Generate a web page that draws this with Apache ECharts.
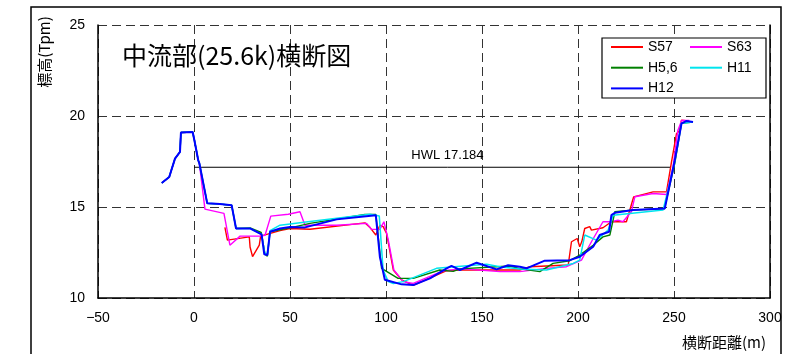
<!DOCTYPE html>
<html>
<head>
<meta charset="utf-8">
<script src="https://cdn.jsdelivr.net/npm/echarts@6/dist/echarts.min.js"></script>
<style>html,body{margin:0;padding:0;background:#fff;}#c{width:788px;height:354px;}</style>
</head>
<body>
<div id="c"></div>
<script>
// ---- data ----
var xTicks = [-50, 0, 50, 100, 150, 200, 250, 300];
var yTicks = [10, 15, 20, 25];
var seriesNames = ['S57', 'S63', 'H5,6', 'H11', 'H12'];
var leftBank = [[-16.8,16.32],[-12.9,16.65],[-9.9,17.66],[-7.3,18.03],[-6.8,19.09],[-0.7,19.12],[0.2,18.67],[2.2,17.57],[2.8,17.4]];
var s57 = [[16.1,13.88],[17.4,13.18],[28.8,13.36],[29.2,12.8],[30.5,12.27],[34,12.9],[34.7,13.4],[44.8,13.7],[50,13.82],[60.4,13.78],[89,14.13],[91.6,13.88],[94.7,13.46],[96.8,14.0],[98.5,13.92],[100.3,13.55],[103.8,11.54],[108.1,11.0],[114.2,10.7],[131.6,11.5],[138.5,11.54],[169.7,11.54],[175,11.72],[194.9,11.81],[196.6,13.09],[199.6,13.27],[200.9,12.82],[202,13.1],[203.5,13.82],[206.1,13.92],[207,13.73],[213,13.86],[217.4,14.19],[225.2,14.19],[229,15.56],[239.1,15.83],[246.1,15.83],[248.7,17.48],[251.3,19.03],[253,19.22],[253.9,19.77],[257.3,19.73]];
var s63 = leftBank.concat([[5.7,14.88],[15.6,14.65],[18.7,12.9],[24,13.4],[34.4,13.4],[37,13.45],[40,14.5],[49.1,14.6],[55.2,14.74],[57.8,14.0],[74.3,14.0],[89.9,14.1],[92.5,13.77],[96.8,13.77],[98.9,14.19],[101.2,13.18],[104.1,11.54],[109,10.9],[114.2,10.8],[130,11.5],[140,11.6],[159.3,11.45],[169.7,11.45],[183.6,11.63],[194,11.72],[201.8,12.08],[207,13.09],[213,14.19],[217.4,14.19],[220.8,14.28],[223.4,14.19],[227.8,14.74],[229.6,15.56],[239.1,15.74],[246.1,15.69],[249.5,17.2],[252,19.2],[254,19.75],[258,19.75]]);
var h56 = leftBank.concat([[6.9,15.2],[13.5,15.16],[19.6,15.1],[21.9,13.82],[29.2,13.85],[35,13.6],[37,12.4],[38.2,12.3],[39.6,13.64],[50,13.85],[60.4,14.1],[89,14.59],[94.7,14.59],[97.7,11.63],[106.3,11.08],[114.2,11.08],[128,11.54],[135,11.46],[138.5,11.6],[164.5,11.76],[170,11.6],[180.1,11.45],[187,11.9],[195.7,12.05],[200.9,12.36],[207.9,12.9],[213,13.36],[216.6,13.46],[219.2,14.74],[227.8,14.83],[245,14.9],[250.4,17.4],[253.9,19.6],[259.9,19.67]]);
var h11 = leftBank.concat([[6.9,15.2],[13.5,15.16],[19.6,15.1],[21.9,13.82],[29.2,13.82],[35.2,13.5],[36.8,12.5],[38.2,12.4],[39.6,13.7],[44.8,14.0],[60.4,14.2],[91.6,14.6],[96.5,14.5],[98.5,11.54],[101.2,10.9],[103.8,10.8],[109,10.9],[126.3,11.63],[145.4,11.8],[152.4,11.86],[160,11.7],[170,11.6],[183.6,11.54],[197.5,11.9],[200.9,12.08],[203.5,13.46],[209.6,13.18],[215.7,13.73],[218.3,14.55],[244.3,14.83],[250,17.3],[253.9,19.6],[259.9,19.67]]);
var h12 = leftBank.concat([[6.9,15.2],[13.5,15.16],[19.6,15.1],[21.9,13.82],[29.2,13.82],[35.2,13.5],[36.6,12.4],[38.2,12.36],[39.6,13.64],[44.8,13.82],[50,13.9],[57.8,13.88],[74.3,14.32],[94.7,14.55],[95.4,14.55],[96.8,12.27],[99.4,11.0],[108.1,10.75],[114.2,10.71],[122.9,11.08],[131.6,11.63],[134.1,11.76],[138.5,11.54],[147.2,11.94],[157.6,11.57],[163.6,11.8],[169.7,11.72],[173.2,11.63],[182.7,12.05],[195.7,12.08],[200.9,12.27],[207.9,12.82],[211.3,13.46],[216.2,13.64],[217.4,14.55],[219.2,14.68],[228.7,14.83],[245.2,14.92],[250.4,17.57],[253.9,19.58],[256.5,19.73],[259.9,19.67]]);
var hwlLevel = 17.184;
var hwlX = [0, 132, 248];
var hwlLabel = 'HWL 17.184';
var titleText = '中流部(25.6k)横断図';
var yName = '標高(Tpm)';
var xName = '横断距離(m)';

// ---- chart ----
var chart = echarts.init(document.getElementById('c'));
var colors = {'S57':'#ff0000','S63':'#ff00ff','H5,6':'#008000','H11':'#00e5ee','H12':'#0000ff'};
var datasets = {'S57':s57,'S63':s63,'H5,6':h56,'H11':h11,'H12':h12};
var widths = {'S57':1.4,'S63':1.4,'H5,6':1.4,'H11':1.5,'H12':2};
var numFont = 'Liberation Sans';
var cjkFont = 'Noto Sans CJK JP';

var series = seriesNames.map(function(n, i){
  return {name:n, type:'line', data:datasets[n], symbol:'none', z:2+i,
    lineStyle:{color:colors[n], width:widths[n]}, itemStyle:{color:colors[n]}};
});
series.push({
  name:'HWL', type:'line', symbol:'circle', symbolSize:0.01, showSymbol:true, showAllSymbol:true, z:1,
  lineStyle:{color:'#000', width:1}, itemStyle:{color:'#000'},
  data:hwlX.map(function(x, i){
    var d = {value:[x, hwlLevel]};
    if (i === 1) d.label = {show:true, position:'top', distance:5, formatter:hwlLabel, color:'#000', fontSize:13, fontFamily:numFont};
    return d;
  })
});

var splitStyle = {show:true, lineStyle:{color:'#333', width:1, type:[9,5]}};
var legendCommon = {orient:'vertical', top:40, padding:0, itemWidth:32, itemHeight:14, itemGap:6.7, z:20,
  itemStyle:{opacity:0, borderWidth:0},
  textStyle:{fontSize:14, color:'#000', fontFamily:numFont}};
chart.setOption({
  animation:false,
  backgroundColor:'#fff',
  title:{text:titleText, left:117, top:38, textStyle:{fontSize:25, fontWeight:'normal', color:'#000', fontFamily:cjkFont}},
  grid:{left:98, right:18, top:25, bottom:56},
  legend:[
    Object.assign({data:['S57','H5,6','H12'], left:610}, legendCommon),
    Object.assign({data:['S63','H11'], left:689}, legendCommon)
  ],
  xAxis:{type:'value', min:xTicks[0], max:xTicks[xTicks.length-1], interval:50,
    axisLine:{show:true, onZero:false, lineStyle:{color:'#000', width:1.5}},
    axisTick:{show:false},
    axisLabel:{fontSize:14, color:'#000', fontFamily:numFont, margin:13,
      formatter:function(v){return v < 0 ? '\u2212' + Math.abs(v) : String(v);}},
    splitLine:splitStyle},
  yAxis:[
    {type:'value', min:yTicks[0], max:yTicks[yTicks.length-1], interval:5,
     axisLine:{show:true, onZero:false, lineStyle:{color:'#000', width:1.5}},
     axisTick:{show:false},
     axisLabel:{fontSize:14, color:'#000', fontFamily:numFont, margin:13},
     splitLine:splitStyle},
    {type:'value', position:'right', min:yTicks[0], max:yTicks[yTicks.length-1], interval:5,
     axisLine:{show:true, onZero:false, lineStyle:{color:'#000', width:1.5}},
     axisTick:{show:false}, axisLabel:{show:false}, splitLine:{show:false}}
  ],
  graphic:[
    {type:'rect', shape:{x:31, y:7, width:750, height:360}, style:{fill:null, stroke:'#000', lineWidth:1.5}, silent:true, z:-1},
    {type:'rect', shape:{x:602, y:38, width:164, height:60}, style:{fill:'#fff', stroke:'#000', lineWidth:1.2}, silent:true, z:1},
    {type:'text', x:44, y:52, rotation:Math.PI/2, style:{text:yName, fontSize:15, fontFamily:cjkFont, fill:'#000', align:'center', verticalAlign:'middle'}},
    {type:'text', x:724, y:342, style:{text:xName, fontSize:15, fontFamily:cjkFont, fill:'#000', align:'center', verticalAlign:'middle'}}
  ],
  series:series
});
</script>
</body>
</html>
